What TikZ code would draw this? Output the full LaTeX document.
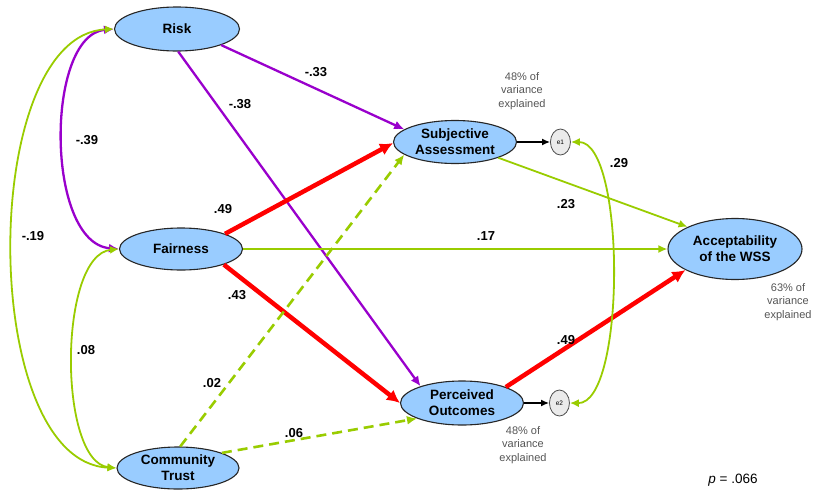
\documentclass[tikz,border=0pt]{standalone}
\usepackage{fontspec}
\setmainfont{Liberation Sans}
\usetikzlibrary{arrows.meta}
\usetikzlibrary{shapes.geometric}
\usetikzlibrary{positioning}
\definecolor{latentblue}{RGB}{153,204,255}
\definecolor{pathpurple}{RGB}{153,0,204}
\definecolor{pathgreen}{RGB}{153,204,0}
\definecolor{pathred}{RGB}{255,0,0}
\definecolor{notegray}{RGB}{85,85,85}
\tikzset{
  >=Latex
}

\begin{document}
\begin{tikzpicture}[x=1pt, y=-1pt]
    % Define styles
    \tikzstyle{latent} = [ellipse, draw=black!85, line width=1.1pt, fill=latentblue, align=center, inner sep=0pt, font=\bfseries\fontsize{13.5}{16}\selectfont]
    \tikzstyle{errnode} = [ellipse, draw=black!70, line width=0.8pt, fill=black!8, inner sep=0pt, minimum width=20pt, minimum height=26pt, font=\fontsize{6.5}{8}\selectfont]
    \tikzstyle{coef} = [font=\bfseries\fontsize{13}{15}\selectfont]
    \tikzstyle{note} = [align=center, text=notegray, font=\fontsize{11}{13.5}\selectfont]
    \tikzstyle{negpath} = [draw=pathpurple, line width=2.3pt, -{Latex[length=10pt,width=9pt]}]
    \tikzstyle{strongpath} = [draw=pathred, line width=4.5pt, -{Latex[length=13pt,width=13pt]}]
    \tikzstyle{weakpath} = [draw=pathgreen, line width=1.8pt, -{Latex[length=9pt,width=8pt]}]
    \tikzstyle{nspath} = [draw=pathgreen, line width=2.6pt, dash pattern=on 10pt off 6pt, -{Latex[length=10pt,width=9pt]}]
    \tikzstyle{errpath} = [draw=black, line width=1.4pt, -{Latex[length=8pt,width=7pt]}]
    \tikzstyle{negcov} = [draw=pathpurple, line width=2.3pt, {Latex[length=10pt,width=9pt]}-{Latex[length=10pt,width=9pt]}]
    \tikzstyle{poscov} = [draw=pathgreen, line width=1.8pt, {Latex[length=9pt,width=8pt]}-{Latex[length=9pt,width=8pt]}]

    \useasboundingbox (0,0) rectangle (813,490);

    % Place nodes
    \node [latent, minimum width=125pt, minimum height=44pt] (risk) at (177,29) {Risk};
    \node [latent, minimum width=123pt, minimum height=42pt] (fair) at (181,249) {Fairness};
    \node [latent, minimum width=122pt, minimum height=42pt] (trust) at (178,468) {Community\\Trust};
    \node [latent, minimum width=123pt, minimum height=43pt] (sa) at (455,142) {Subjective\\Assessment};
    \node [latent, minimum width=123pt, minimum height=44pt] (po) at (462,403) {Perceived\\Outcomes};
    \node [latent, minimum width=134pt, minimum height=61pt] (wss) at (735,249) {Acceptability\\of the WSS};
    \node [errnode, right=33pt of sa] (e1) {e1};
    \node [errnode, right=25pt of po] (e2) {e2};

    \node [note] (sanote) at (522,91) {48\% of\\variance\\explained};
    \node [note] (ponote) at (523,445) {48\% of\\variance\\explained};
    \node [note] (wssnote) at (788,302) {63\% of\\variance\\explained};
    \node [font=\fontsize{13.5}{15}\selectfont] (pval) at (733,480) {\textit{p} = .066};

    % Draw edges
    \path [negpath] (risk.-20) -- (sa.166);
    \path [negpath] (risk.-87) -- (po.158);
    \path [strongpath] (fair.19) -- (sa.181);
    \path [weakpath] (fair.east) -- (wss.west);
    \path [strongpath] (fair.-20) -- (po.180);
    \path [nspath] (trust.84) -- (sa.194);
    \path [nspath] (trust.19) -- (po.199);
    \path [errpath] (sa) -- (e1);
    \path [weakpath] (sa.-20) -- (wss.155);
    \path [strongpath] (po.20) -- (wss.203);
    \path [errpath] (po) -- (e2);
    \path [negcov] (risk.west) .. controls (45,35) and (45,243) .. (fair.west);
    \path [poscov] (risk.west) .. controls (-22,35) and (-22,462) .. (trust.west);
    \path [poscov] (fair.west) .. controls (58,255) and (58,462) .. (trust.west);
    \path [poscov] (e1.east) .. controls (626,142) and (626,404) .. (e2.east);

    % Path coefficients
    \node [coef] (c1) at (316,72) {-.33};
    \node [coef] (c2) at (240,104) {-.38};
    \node [coef] (c3) at (87,140) {-.39};
    \node [coef] (c4) at (33,236) {-.19};
    \node [coef] (c5) at (223,209) {.49};
    \node [coef] (c6) at (486,236) {.17};
    \node [coef] (c7) at (566,204) {.23};
    \node [coef] (c8) at (619,163) {.29};
    \node [coef] (c9) at (237,295) {.43};
    \node [coef] (c10) at (86,350) {.08};
    \node [coef] (c11) at (212,383) {.02};
    \node [coef] (c12) at (294,433) {.06};
    \node [coef] (c13) at (566,340) {.49};
\end{tikzpicture}
\end{document}
